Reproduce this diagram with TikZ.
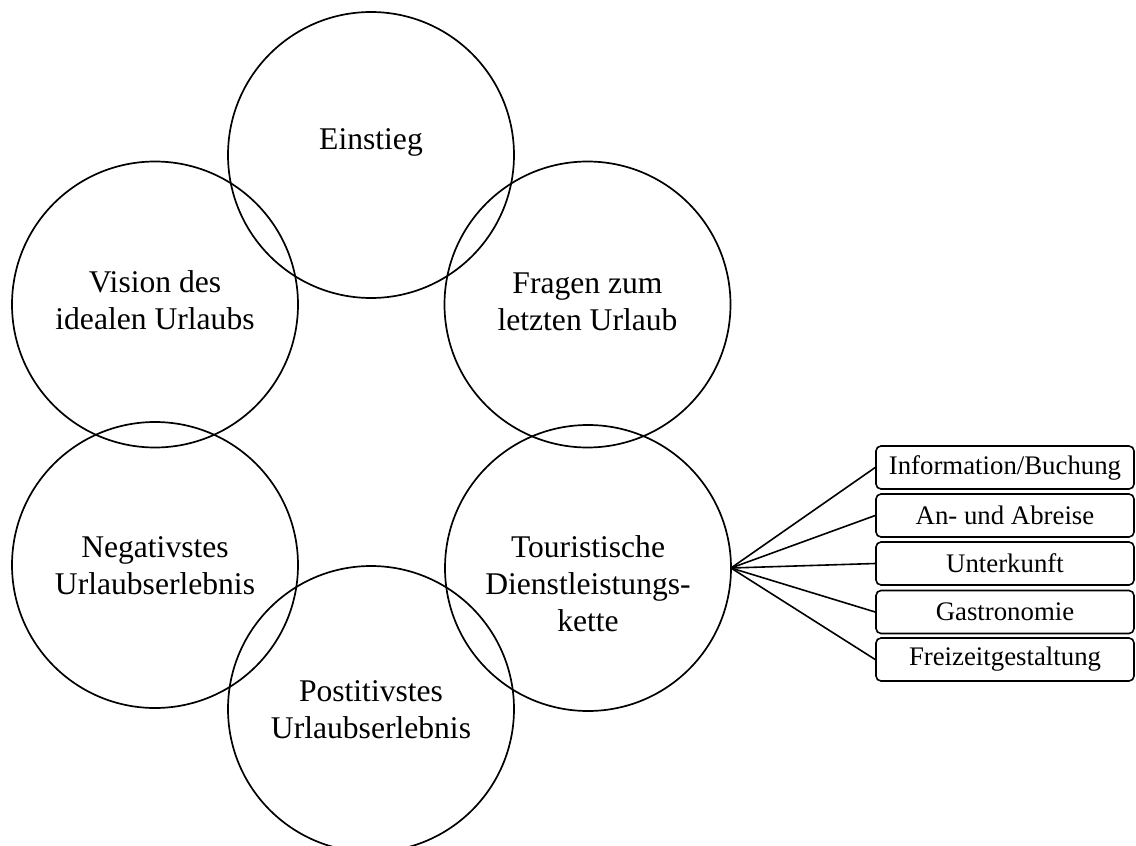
\documentclass[tikz,border=0pt]{standalone}
\usepackage{fontspec}
\setmainfont{Liberation Serif}
\tikzset{
  ring/.style={line width=0.85pt},
  ringtext/.style={align=center, font=\fontsize{15.8}{18.5}\selectfont},
  item/.style={draw, line width=0.8pt, rounded corners=2.5pt, minimum width=129pt, minimum height=21.5pt, inner sep=0pt, font=\fontsize{13.4}{16}\selectfont},
}
\begin{document}
\begin{tikzpicture}[x=0.5pt, y=-0.5pt]
		\useasboundingbox (0,0) rectangle (1136,846);
		\def\rad{143};
		% the six interview parts
		\draw[ring] (371,155) circle (\rad);
		\draw[ring] (587.5,304.5) circle (\rad);
		\draw[ring] (588,568) circle (\rad);
		\draw[ring] (371,709) circle (\rad);
		\draw[ring] (155,565) circle (\rad);
		\draw[ring] (155,304.5) circle (\rad);
		\node[ringtext] (einstieg) at (371,142) {Einstieg};
		\node[ringtext] (fragen) at (587.5,301.5) {Fragen zum\\letzten Urlaub};
		\node[ringtext] (kette) at (588,584) {Touristische\\Dienstleistungs-\\kette};
		\node[ringtext] (positiv) at (371,709.5) {Postitivstes\\Urlaubserlebnis};
		\node[ringtext] (negativ) at (155,565.5) {Negativstes\\Urlaubserlebnis};
		\node[ringtext] (vision) at (155,300.5) {Vision des\\idealen Urlaubs};
		% links of the chain
		\coordinate (hub) at (731,568);
		\node[item] (info) at (1005,467.5) {Information/Buchung};
		\node[item] (reise) at (1005,515.5) {An- und Abreise};
		\node[item] (unterkunft) at (1005,563.5) {Unterkunft};
		\node[item] (gastro) at (1005,612) {Gastronomie};
		\node[item] (freizeit) at (1005,659.5) {Freizeitgestaltung};
		\foreach \b in {info,reise,unterkunft,gastro,freizeit}
			\draw[line width=0.8pt] (hub) -- (\b.west);
		\end{tikzpicture}
\end{document}
